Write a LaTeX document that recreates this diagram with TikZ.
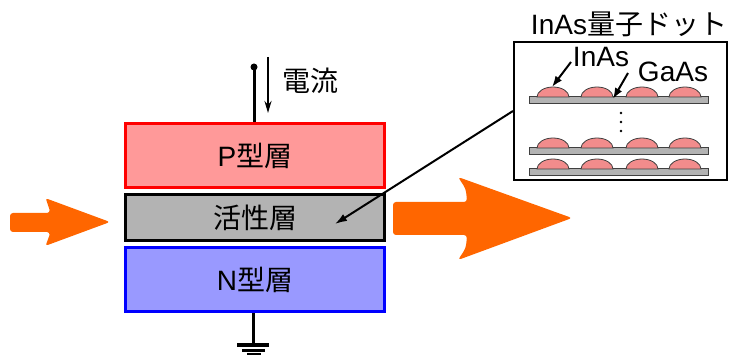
\documentclass[tikz,border=0pt]{standalone}
\usepackage{fontspec}
\setmainfont{Liberation Sans}
\newfontfamily\cjk{Noto Sans CJK JP}
\usetikzlibrary{arrows.meta}

\definecolor{player}{RGB}{255,153,153}
\definecolor{nlayer}{RGB}{153,153,255}
\definecolor{actlayer}{RGB}{179,179,179}
\definecolor{qdot}{RGB}{242,140,140}
\definecolor{beam}{RGB}{255,102,0}

\tikzset{
  bigtext/.style={font=\fontsize{28}{30}\selectfont, inner sep=0pt},
  layer/.style={bigtext, line width=3pt, minimum width=259pt, minimum height=64pt},
  gaasbar/.style={draw=black!75, fill=actlayer, line width=1pt},
  qdotstyle/.style={draw=black!75, fill=qdot, line width=0.8pt},
  beamarrow/.style={fill=beam, rounded corners=3pt},
  pointer/.style={line width=2pt, -{Latex[length=11pt,width=8pt]}}
}

\begin{document}
\begin{tikzpicture}[x=1pt,y=-1pt]
\useasboundingbox (0,0) rectangle (729,355);

% layers
\node [layer, draw=red, fill=player] (p) at (255,155.5) {P\cjk 型層};
\node [layer, draw=black, fill=actlayer, minimum height=46pt] (act) at (255,217.5) {\cjk 活性層};
\node [layer, draw=blue, fill=nlayer] (n) at (255,279.5) {N\cjk 型層};

% current wire and ground
\coordinate (top) at (254,67);
\draw [line width=3pt] (top) -- (top |- p.north);
\fill (top) circle (3.5);
\draw [line width=2pt, -{Stealth[length=12pt,width=7pt]}] (268,57) -- (268,113);
\node [bigtext] (cur) at (310,81) {\cjk 電流};
\coordinate (gnd) at (253,345);
\draw [line width=3pt] (gnd |- n.south) -- (gnd);
\draw [line width=3.5pt] (237,345) -- (269,345);
\draw [line width=3pt] (242,350.5) -- (265,350.5);
\draw [line width=3pt] (247,355) -- (261,355);

% light in and out
\fill [beamarrow] (10,213) -- (50,213) .. controls (49,205) .. (45,198) -- (110,222)
  -- (45,246) .. controls (49,239) .. (50,232) -- (10,232) -- cycle;
\fill [beamarrow] (393,202) -- (467,202) .. controls (466,189) .. (458,177) -- (572,218)
  -- (458,260) .. controls (466,248) .. (467,235) -- (393,235) -- cycle;

% quantum dot inset
\node [draw, line width=2pt, minimum width=213pt, minimum height=138pt] (inset) at (620.5,111) {};
\node [bigtext] (title) at (629,24) {InAs\cjk 量子ドット};
\foreach \y in {97,148,169} {
  \draw [gaasbar] (529,\y) rectangle (708,\y+7);
  \foreach \x in {553,597,642,685}
    \draw [qdotstyle] (\x-16,\y) arc (180:360:16 and 10) -- cycle;
}
\foreach \y in {113,122,131}
  \fill (621,\y) circle (1.4);
\node [bigtext] (inas) at (601,57) {InAs};
\node [bigtext] (gaas) at (673,72) {GaAs};
\coordinate (inastip) at (552,87);
\coordinate (gaastip) at (613,99);
\draw [pointer] (571,62) -- (inastip);
\draw [pointer] (628,73) -- (gaastip);

% pointer into the active layer
\coordinate (acttip) at (335,224);
\draw [line width=2pt, -{Latex[length=12pt,width=8pt]}] (inset.west) -- (acttip);
\end{tikzpicture}
\end{document}
